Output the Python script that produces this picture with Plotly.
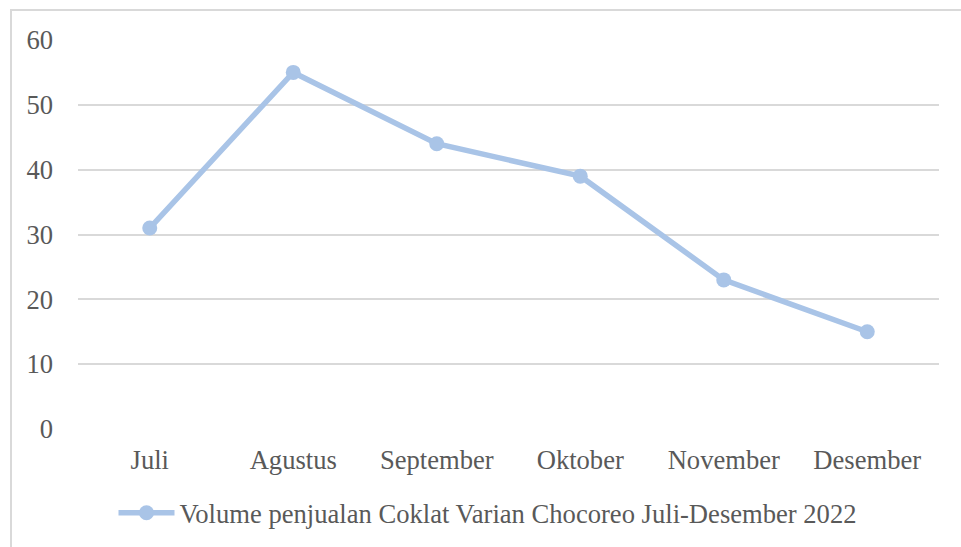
import plotly.graph_objects as go

months = ["Juli", "Agustus", "September", "Oktober", "November", "Desember"]
volume = [31, 55, 44, 39, 23, 15]
series_name = "Volume penjualan Coklat Varian Chocoreo Juli-Desember 2022"
y_ticks = [0, 10, 20, 30, 40, 50, 60]

W, H = 961, 547
L, R, T, B = 78, 22, 40, 118
pw, ph = W - L - R, H - T - B

line_color = "#A9C4E7"
text_color = "#595959"
grid_color = "#D9D9D9"
font_family = "Liberation Serif, Times New Roman, serif"
fs = 26.6

fig = go.Figure()
fig.add_trace(go.Scatter(
    x=months, y=volume, name=series_name, mode="lines+markers",
    line=dict(color=line_color, width=5.5),
    marker=dict(color=line_color, size=15, symbol="circle"),
    showlegend=True,
))

fig.update_layout(
    width=W, height=H,
    margin=dict(l=L, r=R, t=T, b=B),
    paper_bgcolor="white", plot_bgcolor="white",
    font=dict(family=font_family, size=fs, color=text_color),
    showlegend=True,
    legend=dict(orientation="h", x=(488 - L) / pw, xanchor="center",
                y=1 - 513 / H, yref="container", yanchor="middle",
                font=dict(size=fs, color=text_color), itemwidth=56,
                bgcolor="rgba(0,0,0,0)"),
    xaxis=dict(type="category", range=[-0.5, 5.5], showgrid=False,
               showline=False, zeroline=False, ticks="",
               ticklabelstandoff=12, tickfont=dict(size=fs, color=text_color)),
    yaxis=dict(range=[0, 60], tickvals=y_ticks, showgrid=True,
               gridcolor=grid_color, gridwidth=1.5, zeroline=False,
               showline=False, ticks="", ticklabelstandoff=24,
               tickfont=dict(size=fs, color=text_color)),
)

# outer chart border (extends beyond right and bottom edges)
fig.add_shape(type="rect", xref="paper", yref="paper",
              x0=(11 - L) / pw, x1=(W + 20 - L) / pw,
              y0=-(H + 20 - T - ph) / ph - 0.2, y1=(H - B - 10) / ph,
              line=dict(color=grid_color, width=2), fillcolor="rgba(0,0,0,0)",
              layer="below")

fig.write_html("out.html")
